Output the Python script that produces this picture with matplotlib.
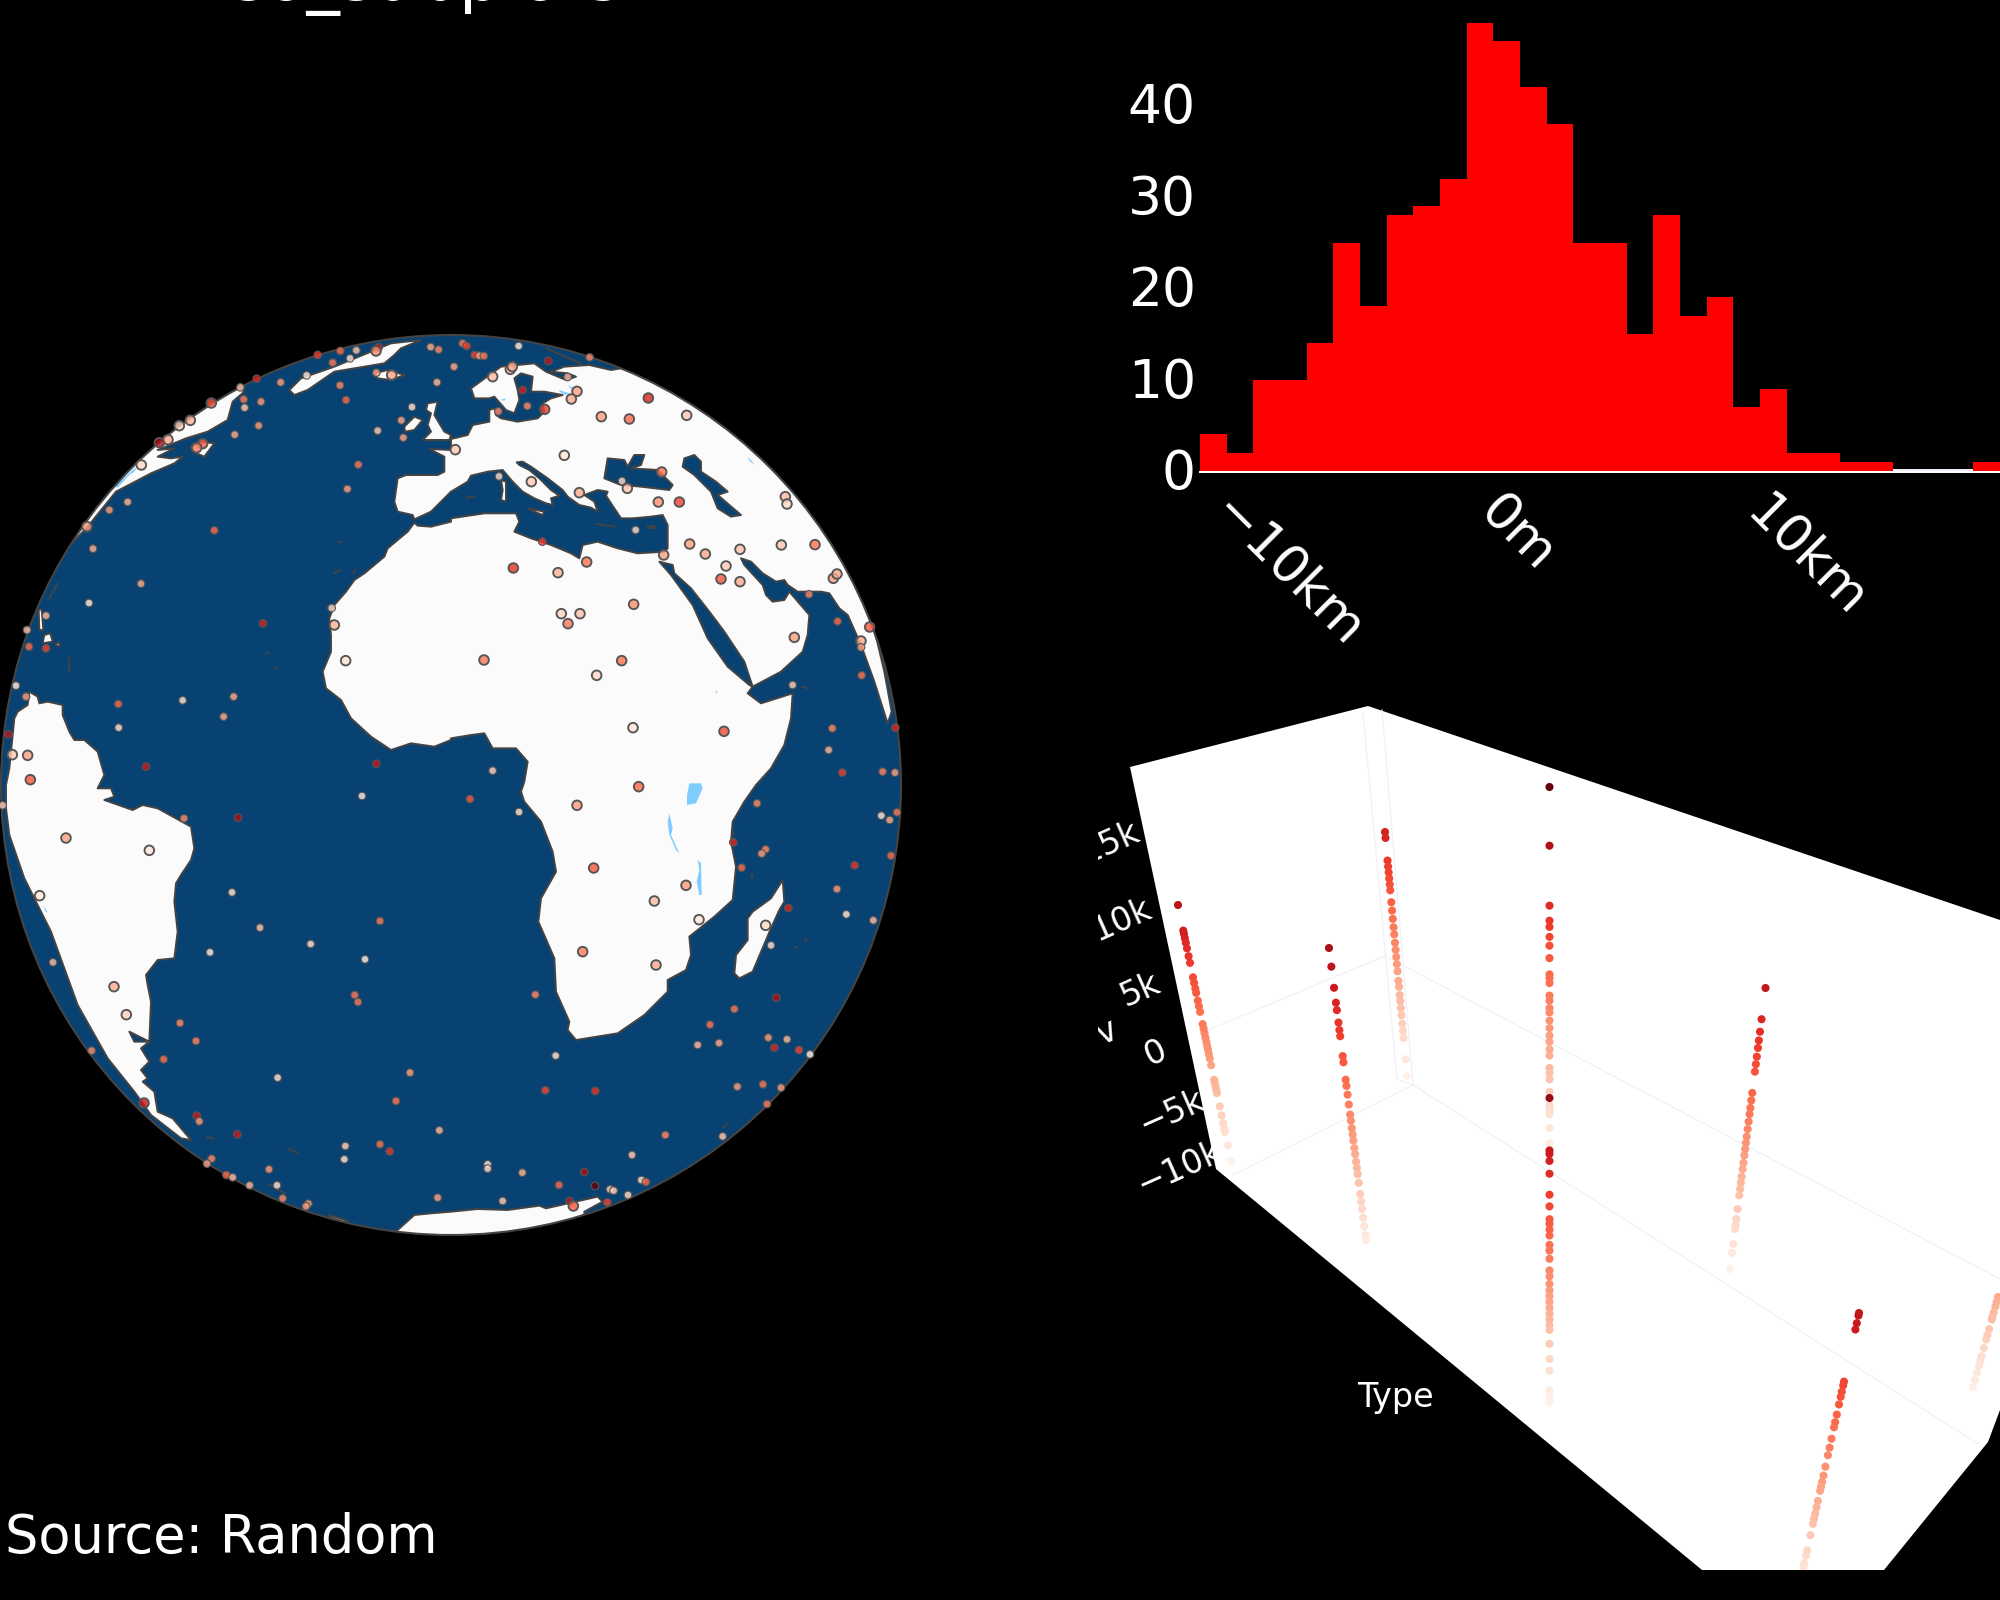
import numpy as np
import matplotlib
matplotlib.use("Agg")
import matplotlib.pyplot as plt
from matplotlib.path import Path
from matplotlib.patches import Circle, Polygon
from matplotlib.lines import Line2D
from matplotlib.transforms import ScaledTranslation

# ---------- histogram data ----------
hist_counts = [4, 2, 10, 10, 14, 25, 18, 28, 29, 32, 49, 47, 42, 38, 25, 25, 15, 28, 17, 19,
               7, 9, 2, 2, 1, 1, 0, 0, 0, 1]
hist_start = -10750
hist_bin = 1000
hist_ticks = [-10000, 0, 10000]
hist_ticklabels = ["\u221210km", "0m", "10km"]
hist_yticks = [0, 10, 20, 30, 40]

# ---------- globe markers, orthographic plane readings per quadrant ----------
ne_x = [35,47,203,71,85,99,416,292,9,178,184,125,350,215,378,361,592,229,281,142,451,535,707,13,340,144,241,632,513,385,529,622,685,1003,1008,554,274,716,763,867,991,1092,638,407,321,825,187,810,867,1147,1158,1074,548,331,387,351,1160,1256,1030,1230,1230,99,512,1232,437,1025,546,819,1144,1133,1333,125,1295,1332,1174]
ne_y = [25,33,33,60,62,63,67,78,95,103,95,125,126,165,169,192,189,213,223,229,245,252,241,344,361,424,440,411,438,473,460,501,501,485,507,585,620,627,657,643,630,629,660,681,713,693,699,732,740,730,717,778,808,836,836,866,859,876,907,918,937,975,977,1021,1021,1050,1178,1189,1180,1245,1178,1307,1310,1313,1313]
ne_v = [.45,.6,.08,.6,.35,.45,.4,.8,.3,.25,.3,.25,.28,.72,.33,.3,.7,.4,.6,.42,.33,.5,.2,.2,.1,.15,.2,.47,.15,.3,.22,.37,.6,.25,.15,.15,.62,.33,.3,.23,.22,.47,.33,.47,.27,.2,.65,.55,.3,.35,.3,.42,.38,.17,.23,.45,.5,.55,.33,.3,.35,.45,.47,.47,.15,.2,.1,.58,.4,.27,.7,.18,.42,.33,.62]

nw_x = [1133,1125,950,1018,1066,1047,995,1289,1313,917,839,767,718,1126,1172,1308,1017,728,1035,631,780,731,1233,568,535,773,1201,1130,701,1207,501,475,605,587,421,1072,1039,380,325,258,640,276,420,264,135,992,786,1000,78,84,135,1034,45,75,698,545,352,668,353,22,34,80,435,1126,88]
nw_y = [37,48,60,48,46,70,83,36,44,121,142,131,157,113,120,142,151,193,195,204,200,218,216,256,272,272,256,287,299,308,314,323,326,338,390,389,462,501,525,575,586,641,746,804,842,819,865,870,885,935,940,977,1052,1085,1085,1096,1107,1145,1178,1198,1259,1261,1295,1286,1334]
nw_v = [.75,.4,.62,.5,.22,.12,.45,.3,.4,.1,.35,.7,.25,.35,.32,.25,.4,.45,.5,.55,.35,.2,.12,.28,.18,.35,.3,.2,.3,.32,.3,.85,.55,.45,.15,.45,.33,.27,.35,.35,.5,.28,.3,.08,.25,.17,.72,.28,.22,.5,.6,.12,.05,.35,.3,.12,.5,.3,.13,.8,.2,.33,.75,.78,.55]

sw_x = [5,1083,549,711,195,445,693,777,1137,116,929,627,1092,156,339,1061,1071,376,537,585,488,272,830,1227,1185,429,587,595,709,1315,1033,1137,1166,1030,632,618,804,676,695,746,828,845,1310,922,915]
sw_y = [61,33,100,98,159,196,322,428,408,332,477,502,523,532,605,630,651,689,714,768,823,797,878,863,948,954,992,1009,1048,1036,1083,1078,1099,1123,1121,1136,1153,1170,1177,1201,1201,1240,1238,1256,1264]
sw_v = [.2,.07,.4,.85,.33,.1,.12,.22,.45,.08,.13,.05,.04,.25,.3,.45,.45,.18,.4,.42,.47,.4,.1,.33,.47,.75,.75,.35,.75,.25,.18,.48,.65,.1,.4,.33,.35,.5,.25,.27,.12,.4,.33,.35,.35]

se_x = [563,57,378,204,918,1291,1316,1338,847,944,932,1320,1211,428,872,705,1158,610,1012,744,1186,1267,944,960,395,615,253,976,850,777,952,1008,740,804,970,1044,1077,314,283,433,859,936,990,948,643,815,543,110,110,214,400,324,432,571,585,477,488,531,155,356,367,469]
se_y = [5,42,61,81,55,92,105,82,172,193,206,212,241,249,248,301,312,348,369,404,388,406,421,481,500,540,629,638,672,719,758,763,780,774,788,795,808,812,916,918,905,898,908,957,1050,1054,1110,1138,1151,1163,1161,1200,1203,1185,1191,1213,1217,1230,1248,1248,1263,1252]
se_v = [.5,.55,.35,.1,.4,.1,.3,.45,.7,.4,.35,.5,.65,.55,.5,.35,.35,.25,.7,.1,.08,.25,.15,.13,.45,.3,.4,.85,.45,.47,.35,.25,.25,.3,.7,.6,.05,.1,.6,.65,.33,.45,.35,.45,.4,.2,.2,.1,.15,.28,.85,.5,1.0,.13,.5,.2,.18,.15,.2,.8,.55,.6]

# ---------- coast outlines, same plane readings ----------
def nw(p): return [(x - 1350, 1350 - y) for x, y in p]
def ne(p): return [(x, 1350 - y) for x, y in p]
def sw(p): return [(x - 1350, -y) for x, y in p]
def se(p): return [(x, -y) for x, y in p]

afro_eurasia = (
    nw([(1240,553),(1290,530),(1330,490)])
    + ne([(0,470),(50,440),(60,422),(110,410),(155,405),(185,440),(215,470),(250,490),(285,505),(305,510),(300,490),(325,482),
          (300,465),(265,430),(235,405),(205,390),(197,382),(215,380),(240,395),(290,430),(335,465),(350,485),(385,510),(420,518),
          (440,530),(430,500),(400,480),(440,465),(470,470),(465,482),(490,520),(510,550),(545,550),(600,545),(635,540),(650,570),
          (650,640),(640,650),(560,655),(500,640),(440,620),(395,630),(385,670),(360,655),(300,630),(240,610),(190,590),(205,560),
          (195,535),(100,535),(0,550)])
    + nw([(1350,560),(1290,575),(1250,572),(1240,563),(1220,590),(1160,640),(1150,665),(1090,715),(1060,735),(1035,770),(1000,810),
          (985,850),(990,900),(990,950),(965,1010),(975,1060),(1020,1095),(1050,1150),(1110,1205),(1170,1245),(1230,1225),(1300,1235),(1350,1215)])
    + ne([(0,1210),(60,1200),(100,1195),(125,1240),(195,1240),(230,1280),(220,1340)])
    + se([(210,20),(220,50),(270,110),(305,200),(315,260),(270,340),(262,410),(310,520),(315,620),(355,710),(350,735),(375,765),
          (500,745),(580,690),(650,620),(650,585),(705,555),(720,510),(715,455),(790,395),(845,345),(855,245),(840,170),(845,110),(880,50),(915,0)])
    + ne([(960,1300),(1000,1230),(1020,1150),(1025,1075),(930,1105),(890,1075),(905,1055),(895,1050),(830,995),(770,910),(725,810),
          (660,720),(625,680),(665,690),(670,715),(720,760),(775,830),(820,890),(880,980),(905,1055),(990,1010),(1055,950),(1070,900),
          (1075,840),(1015,770),(1000,795),(965,800),(945,780),(935,750),(880,690),(870,670),(900,680),(935,715),(975,740),(1000,735),
          (1010,750),(1040,770),(1110,770),(1135,775),(1165,820),(1190,840),(1230,930),(1270,1040),(1305,1150),(1310,1165),(1322,1130),
          (1300,1010),(1268,875),(1500,800),(1500,-100),(700,-100),(510,100),(480,105),(415,90),(340,95),(300,110),(350,115),(375,125),
          (345,135),(285,110),(250,85),(150,95),(60,160),(70,190),(115,190),(130,185),(165,225),(190,235),(205,195),(200,165),(190,130),
          (210,115),(245,125),(240,170),(280,170),(335,180),(300,190),(275,205),(280,230),(260,250),(200,260),(150,250),(135,240),(130,220),
          (115,225),(115,260),(65,270),(50,300),(0,312)])
    + nw([(1350,345),(1285,342),(1330,365),(1330,410),(1310,420),(1215,420),(1190,430),(1180,500),(1190,530),(1235,540)])
)
south_america = (
    nw([(40,1150),(50,1130),(80,1110),(85,1070),(110,1085),(115,1105),(140,1100),(185,1110),(185,1140),(205,1190),(220,1215),(250,1215),(290,1250),(310,1320)])
    + sw([(290,10),(330,10),(340,35),(310,45),(395,75),(425,60),(470,70),(570,125),(580,190),(570,225),(540,270),(525,295),(520,350),(530,440),(520,520),
          (470,525),(435,570),(440,600),(450,650),(445,770),(385,740),(400,770),(445,770),(420,790),(445,830),(420,855),(440,880),(425,890),(460,920),(470,980),(515,1000),
          (570,1065),(540,1060),(450,990),(400,920),(320,820),(230,660),(150,440),(115,370),(70,280),(25,150),(15,70),(15,0)])
    + nw([(25,1300)])
)
north_america = nw([(180,660),(260,575),(345,470),(450,415),(520,385),(545,365),(510,370),(470,365),(520,340),(470,345),(555,310),(620,290),
                    (680,255),(695,200),(730,170),(700,150),(100,100),(100,600)])
greenland = nw([(865,165),(900,130),(1000,95),(1110,50),(1170,25),(1260,15),(1200,40),(1180,60),(1150,85),(1000,110),(920,165),(880,180)])
iceland = nw([(1120,115),(1160,105),(1210,120),(1170,135),(1130,130)])
britain = nw([(1280,205),(1310,200),(1300,240),(1330,290),(1350,300),(1345,315),(1310,315),(1265,315),(1290,290),(1280,270),(1290,235),(1275,225)])
ireland = nw([(1210,275),(1240,245),(1265,255),(1240,285),(1212,290)])
newfoundland = nw([(570,335),(600,320),(640,325),(610,365),(575,350)])
cuba = nw([(113,825),(122,822),(127,885),(115,885)])
hispaniola = nw([(130,900),(148,895),(155,920),(125,925)])
antilles = nw([(165,925),(178,925),(175,933),(165,932)])
antarctica = (sw([(1190,1335),(1240,1290),(1290,1285),(1350,1280)])
              + se([(80,1272),(170,1275),(265,1262),(285,1270),(440,1235),(455,1250),(400,1280),(400,1500),(-300,1500)]))
peninsula = sw([(985,1290),(1040,1308),(1030,1312),(990,1298)])
madagascar = se([(995,285),(1000,350),(985,375),(960,430),(905,560),(865,580),(850,565),(855,510),(890,465),(890,400),(905,380),(960,340)])
corsica = ne([(150,435),(165,440),(165,500),(150,495),(155,465)])
sicily = ne([(230,520),(280,530),(275,540),(250,530)])
cyprus = ne([(590,575),(610,572),(610,578),(590,580)])
land_shapes = [afro_eurasia, south_america, north_america, greenland, iceland, britain, ireland, newfoundland,
               cuba, hispaniola, antilles, antarctica, peninsula, madagascar, corsica, sicily, cyprus]

black_sea = ne([(470,370),(520,375),(530,395),(550,360),(580,360),(570,390),(540,400),(620,405),(665,450),(655,465),(570,455),(510,450),(460,430)])
caspian = ne([(700,370),(730,360),(750,380),(750,410),(795,440),(830,470),(800,480),(870,540),(840,545),(800,520),(780,470),(730,420),(695,395)])
sea_shapes = [black_sea, caspian]

victoria = se([(715,-5),(750,-5),(755,10),(735,55),(708,60),(708,30)])
tanganyika = se([(655,85),(665,130),(660,150),(685,205),(675,195),(655,150),(650,110)])
malawi = se([(740,225),(750,235),(752,330),(745,330),(737,290),(745,255)])
ladoga = ne([(325,165),(355,175),(345,180),(325,170)])
onega = ne([(350,150),(368,160),(360,162)])
vanern = ne([(148,195),(165,190),(160,197)])
aral = ne([(890,365),(912,390),(895,378)])
turkana = ne([(793,1065),(800,1072),(795,1074)])
titicaca = sw([(125,360),(140,382),(135,382)])
great_lakes = nw([(340,455),(410,392),(400,410),(385,420),(350,458)])
lake_shapes = [victoria, tanganyika, malawi, ladoga, onega, vanern, aral, turkana, titicaca, great_lakes]

specks = [se([(815,1028),(830,1015)]), se([(1032,487),(1038,487)]), se([(1062,472),(1068,462)]), se([(904,268),(904,278)]),
          se([(845,135),(848,150)]), sw([(862,1092),(890,1103)]), sw([(618,1056),(638,1062)]), sw([(805,1198),(850,1225)]),
          ne([(435,567),(490,575)]), ne([(45,488),(70,484)]), ne([(285,40),(390,85)]), ne([(1055,1055),(1070,1060)]),
          nw([(1010,620),(1020,622)]), nw([(1000,715),(1018,705)]), nw([(1055,715),(1064,703)]), nw([(795,957),(802,952)]),
          nw([(822,996),(828,1002)]), nw([(205,970),(205,1010)]), nw([(145,790),(170,745)])]

# ---------- 3D scene data: measured value along each column, in km ----------
col_a = [-10,-8.6,-7.4,-7.1,-6.6,-5.9,-5.1,-3.9,-3.6,-3.3,-3,-2.7,-1.4,-.8,-.4,0,.3,.7,1.1,1.5,1.9,2.3,3.4,3.9,4.4,5.1,5.5,6,6.5,7.8,8.4,9.1,9.6,10,10.4,10.7,13]
col_b = [14.5,13,11.3,10.1,9.5,8.5,7.9,7.4,5.8,5.3,3.9,3.4,2.7,1.9,1.1,.6,0,-.5,-1,-1.6,-2.1,-2.7,-3.2,-3.7,-4.4,-5.3,-5.9,-6.5,-7.2,-7.9,-8.6,-9]
col_c = [10.5,10,8.1,7.6,7.1,6.6,6.1,5.6,4.6,3.9,3.2,2.5,1.9,1.2,.6,0,-.6,-1.2,-2,-2.5,-3.2,-3.7,-4.3,-4.9,-5.6,-6.2,-6.8,-8.6,-10]
col_d = [19,14.3,9.5,8.3,7.8,7,6.3,5.3,4,3.7,3.3,2.3,1.9,1.3,.95,.3,-.3,-.9,-1.4,-2,-2.5,-3.5,-3.9,-4.4,-5.4,-6.5,-6.8,-7.2,-8.3,-9.5]
col_e = [16,11.5,11.2,10.6,9.5,7.7,6.7,5.6,5.2,4.7,4.2,3.4,2.9,2.2,1.2,.7,.05,-.5,-1,-1.5,-2,-2.5,-3,-3.5,-3.9,-5.1,-6.4,-7.4,-9.1,-9.6,-10.1]
col_f = [12.5,10,9,8.3,7.7,7,6.4,5.8,4.1,3.5,2.9,2.4,1.8,1.2,.6,.1,-.4,-.9,-1.5,-2,-2.6,-3.1,-3.6,-4.1,-5.2,-6,-6.5,-6.8,-8,-8.7,-10]
col_g = [12.5,12.3,11.7,11.2,7.1,6.8,6.3,5.9,5.3,4.5,3.9,3.5,2.6,1.9,1.3,.4,-.3,-.8,-1.2,-1.5,-2.3,-2.8,-3.3,-3.7,-4.1,-5,-6.2,-6.6,-7.2,-7.5]
col_h = [-2,-2.4,-2.8,-3.3,-3.7,-3.9,-4.7,-5.2,-5.6,-6.3,-7,-7.4,-7.8,-8.4,-9,-9.6]
scene_ticks = ["15k", "10k", "5k", "0", "\u22125k", "\u221210k"]

# ---------- figure ----------
BLACK = "#000000"
fig = plt.figure(figsize=(20, 16), dpi=100, facecolor=BLACK)
plt.rcParams["font.family"] = "DejaVu Sans"

def axes_px(l, t, r, b):
    a = fig.add_axes([l / 2000, 1 - b / 1600, (r - l) / 2000, (b - t) / 1600])
    a.set_facecolor("none")
    return a

# ---------- globe ----------
OCEAN = "#084272"
LANDC = "#FBFBFB"
COAST = "#444444"
LAKE = "#7FCDFF"
gx = axes_px(1, 335, 901, 1235)
gx.set_xlim(-1350, 1350)
gx.set_ylim(-1350, 1350)
gx.axis("off")
disc = Circle((0, 0), 1350, facecolor=OCEAN, edgecolor="none", zorder=1)
gx.add_patch(disc)
for shape in land_shapes:
    p = Polygon(shape, closed=True, facecolor=LANDC, edgecolor=COAST, linewidth=1.4, zorder=2, joinstyle="round")
    gx.add_patch(p)
    p.set_clip_path(disc)
for shape in sea_shapes:
    p = Polygon(shape, closed=True, facecolor=OCEAN, edgecolor=COAST, linewidth=1.4, zorder=3, joinstyle="round")
    gx.add_patch(p)
    p.set_clip_path(disc)
for shape in lake_shapes:
    p = Polygon(shape, closed=True, facecolor=LAKE, edgecolor="none", zorder=3)
    gx.add_patch(p)
    p.set_clip_path(disc)
for sp in specks:
    xs, ys = zip(*sp)
    l, = gx.plot(xs, ys, color=COAST, lw=1.4, zorder=3, solid_capstyle="round")
    l.set_clip_path(disc)
gx.add_patch(Circle((0, 0), 1350, facecolor="none", edgecolor=COAST, linewidth=1.5, zorder=4, clip_on=False))

mx = np.concatenate([np.array(ne_x), np.array(nw_x) - 1350, np.array(sw_x) - 1350, np.array(se_x)])
my = np.concatenate([1350 - np.array(ne_y), 1350 - np.array(nw_y), -np.array(sw_y), -np.array(se_y)])
mv = np.concatenate([ne_v, nw_v, sw_v, se_v])
pts = np.column_stack([mx, my])
on_land = np.zeros(len(pts), dtype=bool)
for shape in land_shapes:
    on_land |= Path(shape).contains_points(pts)
for shape in sea_shapes:
    on_land &= ~Path(shape).contains_points(pts)
reds = matplotlib.colormaps["Reds"]
faces = reds(mv)
faces[:, 3] = 0.82
sizes = np.where(on_land, 48, 30)
widths = np.where(on_land, 1.35, 0.8)
gx.scatter(mx, my, s=sizes, c=faces, edgecolors="#555555", linewidths=widths, zorder=5, clip_on=False)

# ---------- histogram ----------
hx = axes_px(1200, 0, 2000, 471)
edges = hist_start + hist_bin * np.arange(len(hist_counts))
hx.set_xlim(hist_start, hist_start + hist_bin * 30)
hx.set_ylim(0, 471 / 9.14)
hx.axhline(0.11, color="#EBF0F8", lw=1.44, zorder=1)
hx.bar(edges, hist_counts, width=hist_bin, align="edge", color="#FF0000", linewidth=0, zorder=2)
for s in hx.spines.values():
    s.set_visible(False)
hx.set_yticks(hist_yticks)
hx.set_xticks(hist_ticks)
hx.set_xticklabels(hist_ticklabels)
hx.tick_params(axis="y", length=0, pad=3, labelsize=38.5, labelcolor="white")
hx.tick_params(axis="x", length=0, pad=24, labelsize=37.5, labelcolor="white")
plt.setp(hx.get_xticklabels(), rotation=-45, ha="left", va="center", rotation_mode="anchor")
up = ScaledTranslation(0, 2.5 / 100, fig.dpi_scale_trans)
for lab in hx.get_yticklabels():
    lab.set_transform(lab.get_transform() + up)
fig.add_artist(Line2D([1200 / 2000, 1], [1 - 472 / 1600] * 2, color="white", lw=1.44))

# ---------- 3D scene, drawn in its screen plane ----------
sx = axes_px(1098, 680, 2000, 1570)
sx.set_xlim(1098, 2000)
sx.set_ylim(1570, 680)
sx.axis("off")
tick_pos = [(1110, 843), (1122, 920), (1140, 990), (1156, 1053), (1172, 1112), (1180, 1168)]
for (tx, ty), lab in zip(tick_pos, scene_ticks):
    sx.text(tx, ty, lab, color="white", fontsize=24, rotation=24, ha="center", va="center", zorder=1, clip_on=True)
sx.text(1107, 1032, "v", color="white", fontsize=24, rotation=24, ha="center", va="center", zorder=1, clip_on=True)
sx.text(1395, 1398, "Type", color="white", fontsize=24, ha="center", va="center", zorder=1)
wall = [(1130, 767), (1368, 706), (2000, 920), (2010, 1400), (2000, 1410), (1988, 1442), (1884, 1570), (1702, 1570), (1216, 1169)]
sx.add_patch(Polygon(wall, closed=True, facecolor="white", edgecolor="none", zorder=2))
grid_lines = [[(1208, 1030), (1385, 956), (2000, 1279)], [(1233, 1175), (1413, 1085), (1978, 1444)],
              [(1363, 713), (1397, 1079), (1413, 1085)], [(1382, 710), (1413, 1085)]]
for g in grid_lines:
    xs, ys = zip(*g)
    sx.plot(xs, ys, color="#EDF0F8", lw=0.8, zorder=3)

# each column: value and screen position at its top reading and its bottom reading
columns = [
    (col_a, (13, 1178, 905), (-10, 1231, 1161)),
    (col_b, (14.5, 1329, 948), (-9, 1366, 1240)),
    (col_c, (10.5, 1385, 832), (-10, 1407, 1076)),
    (col_d, (19, 1549.5, 787), (-9.5, 1549.5, 1143)),
    (col_e, (16, 1549.5, 1098), (-10, 1549.5, 1401)),
    (col_f, (12.5, 1765.5, 988), (-10, 1730, 1269)),
    (col_g, (12.5, 1859, 1313), (-7.5, 1803.5, 1567)),
    (col_h, (-2, 1998, 1297), (-9.6, 1973, 1387)),
]
for vals, (v1, x1, y1), (v0, x0, y0) in columns:
    vals = np.array(vals, dtype=float)
    f = (vals - v0) / (v1 - v0)
    sx.scatter(x0 + f * (x1 - x0), y0 + f * (y1 - y0), s=34, c=vals, cmap="Reds", vmin=-11, vmax=19,
               linewidths=0, zorder=4)

# ---------- page text ----------
fig.text(231 / 2000, 1.0, "so_subplots", color="white", fontsize=48, ha="left", va="baseline")
fig.text(5 / 2000, 1 - 1553 / 1600, "Source: Random", color="white", fontsize=37.9, ha="left", va="baseline")

fig.savefig("out.png", dpi=100, facecolor=BLACK)
